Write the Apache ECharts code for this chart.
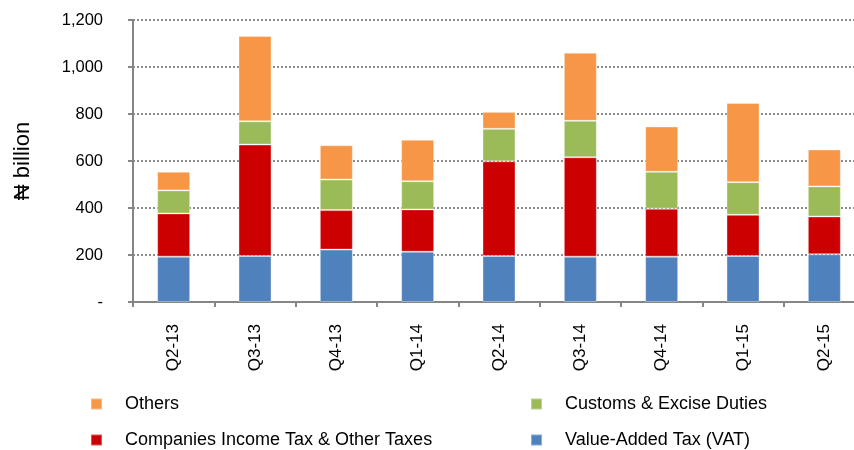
<!DOCTYPE html>
<html>
<head>
<meta charset="utf-8">
<script src="https://cdn.jsdelivr.net/npm/echarts@6/dist/echarts.min.js"></script>
<style>
  html, body { margin: 0; padding: 0; background: #fff; overflow: hidden; }
  /* the plot area runs past the right edge of the picture, so the canvas is wider than the window */
  #chart { width: 880px; height: 450px; }
</style>
</head>
<body>
<div id="chart"></div>
<script>
const quarters = ['Q2-13', 'Q3-13', 'Q4-13', 'Q1-14', 'Q2-14', 'Q3-14', 'Q4-14', 'Q1-15', 'Q2-15'];
const vat = [193, 196, 223, 214, 196, 193, 193, 196, 203];
const companiesTax = [184, 474, 168, 180, 403, 423, 204, 175, 161];
const customs = [98, 99, 130, 120, 138, 155, 157, 139, 128];
const others = [79, 363, 146, 176, 72, 290, 193, 337, 157];
const yTicks = [0, 200, 400, 600, 800, 1000, 1200];

const font = 'Liberation Sans';

const chart = echarts.init(document.getElementById('chart'));

function seriesOf(name, data, color) {
  return {
    name: name,
    type: 'bar',
    stack: 'total',
    data: data,
    barWidth: 33,
    itemStyle: { color: color, borderColor: 'rgba(255,255,255,0.35)', borderWidth: 1 },
    emphasis: { disabled: true }
  };
}

function legendAt(name, left, top) {
  return {
    data: [name],
    left: left,
    top: top,
    padding: 0,
    icon: 'rect',
    itemWidth: 11,
    itemHeight: 11,
    selectedMode: false,
    textStyle: { fontFamily: font, fontSize: 18, color: '#000', padding: [0, 0, 0, 18] }
  };
}

chart.setOption({
  animation: false,
  grid: { left: 133, top: 20, width: 732, height: 282 },
  legend: [
    legendAt('Others', 90, 395),
    legendAt('Customs & Excise Duties', 530, 395),
    legendAt('Companies Income Tax & Other Taxes', 90, 431),
    legendAt('Value-Added Tax (VAT)', 530, 431)
  ],
  xAxis: {
    type: 'category',
    data: quarters,
    axisLine: { lineStyle: { color: '#868686', width: 2 } },
    axisTick: { show: true, length: 5, lineStyle: { color: '#868686', width: 2 } },
    axisLabel: { rotate: 90, margin: 22, fontFamily: font, fontSize: 17, color: '#000' }
  },
  yAxis: {
    type: 'value',
    min: yTicks[0],
    max: yTicks[yTicks.length - 1],
    interval: 200,
    name: '\u20A6 billion',
    nameLocation: 'middle',
    nameRotate: 90,
    nameGap: 99,
    nameTextStyle: { fontFamily: font, fontSize: 22, color: '#000' },
    axisLine: { show: true, lineStyle: { color: '#868686', width: 2 } },
    axisTick: { show: true, length: 5, lineStyle: { color: '#868686', width: 2 } },
    axisLabel: {
      margin: 30,
      fontFamily: font,
      fontSize: 16.5,
      color: '#000',
      formatter: v => v === 0 ? '-' : v.toLocaleString('en-US')
    },
    splitLine: { lineStyle: { color: '#8c8c8c', width: 2, type: [2, 2] } }
  },
  series: [
    seriesOf('Value-Added Tax (VAT)', vat, '#4F81BD'),
    seriesOf('Companies Income Tax & Other Taxes', companiesTax, '#CC0000'),
    seriesOf('Customs & Excise Duties', customs, '#9BBB59'),
    seriesOf('Others', others, '#F79646')
  ]
});
</script>
</body>
</html>
